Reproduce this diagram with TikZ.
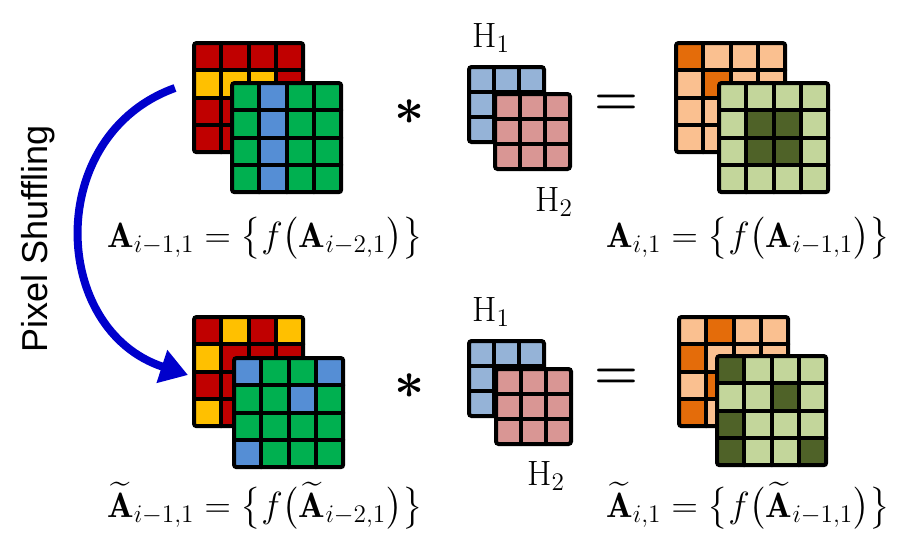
\documentclass[tikz,border=0pt]{standalone}
\usepackage{amsmath, amssymb}
\usepackage{fontspec}
\usepackage{tikz}
\usetikzlibrary{arrows.meta}
\usetikzlibrary{positioning}
\newfontfamily\arialfont{Liberation Sans}

\definecolor{rd}{HTML}{C00000}
\definecolor{yw}{HTML}{FFC000}
\definecolor{gn}{HTML}{00B050}
\definecolor{bu}{HTML}{558ED5}
\definecolor{kb}{HTML}{95B3D7}
\definecolor{kr}{HTML}{D99694}
\definecolor{dor}{HTML}{E46C0A}
\definecolor{lor}{HTML}{FAC090}
\definecolor{lgn}{HTML}{C3D69B}
\definecolor{dgn}{HTML}{4F6228}
\definecolor{shufblue}{HTML}{0000CC}

\tikzset{
    gridline/.style={
        draw=black,
        line width=0.08cm,
        line cap=round
    },
    formula/.style={
        anchor=base,
        inner sep=0pt,
        font=\fontsize{20}{24}\selectfont
    },
    kernlabel/.style={
        inner sep=0pt,
        font=\fontsize{20}{24}\selectfont
    },
    opsign/.style={
        inner sep=0pt,
        font=\fontsize{24.88}{30}\selectfont
    }
}

% grid of coloured pixels: top-left corner x, y, cells per row, pitch, colours
\newcommand{\pixgrid}[5]{%
  \begin{scope}[shift={(#1+2,#2+2)}]
    \foreach \c [count=\k from 0] in {#5} {
      \pgfmathtruncatemacro{\cx}{mod(\k,#3)}
      \pgfmathtruncatemacro{\cy}{div(\k,#3)}
      \fill[\c] (\cx*#4,\cy*#4) rectangle ++(#4,#4);
    }
    \pgfmathtruncatemacro{\last}{#3-1}
    \foreach \i in {1,...,\last} {
      \draw[gridline] (\i*#4,0) -- (\i*#4,#3*#4);
      \draw[gridline] (0,\i*#4) -- (#3*#4,\i*#4);
    }
    \draw[gridline, rounded corners=1.5pt] (0,0) rectangle (#3*#4,#3*#4);
  \end{scope}
}

\begin{document}
\begin{tikzpicture}[x=0.02cm, y=-0.02cm]
    \useasboundingbox (0,0) rectangle (918,551);

    % Feature maps - top row
    \pixgrid{192}{41}{4}{27.3}{rd,rd,rd,rd, yw,yw,yw,rd, rd,rd,rd,rd, rd,rd,rd,rd}
    \pixgrid{230}{81}{4}{27.3}{gn,bu,gn,gn, gn,bu,gn,gn, gn,bu,gn,gn, gn,bu,gn,gn}
    \pixgrid{674}{41}{4}{27.3}{dor,lor,lor,lor, lor,dor,lor,lor, lor,lor,dor,lor, lor,lor,lor,dor}
    \pixgrid{717}{81}{4}{27.3}{lgn,lgn,lgn,lgn, lgn,dgn,dgn,lgn, lgn,dgn,dgn,lgn, lgn,lgn,lgn,lgn}

    % Feature maps - bottom row (shuffled)
    \pixgrid{192}{315}{4}{27.3}{rd,yw,rd,yw, yw,rd,rd,rd, rd,rd,rd,rd, yw,rd,rd,rd}
    \pixgrid{232}{356}{4}{27.3}{bu,gn,gn,bu, gn,gn,bu,gn, gn,gn,gn,gn, bu,gn,gn,gn}
    \pixgrid{677}{315}{4}{27.3}{lor,dor,lor,lor, dor,lor,lor,lor, lor,dor,lor,lor, dor,lor,lor,lor}
    \pixgrid{715}{354}{4}{27.3}{dgn,lgn,lgn,lgn, lgn,lgn,dgn,lgn, dgn,lgn,lgn,lgn, dgn,lgn,lgn,dgn}

    % Kernels
    \pixgrid{467}{65}{3}{25}{kb,kb,kb, kb,kb,kb, kb,kb,kb}
    \pixgrid{493}{92}{3}{25}{kr,kr,kr, kr,kr,kr, kr,kr,kr}
    \pixgrid{467}{339}{3}{25}{kb,kb,kb, kb,kb,kb, kb,kb,kb}
    \pixgrid{494}{367}{3}{25}{kr,kr,kr, kr,kr,kr, kr,kr,kr}

    % Labels
    \node[kernlabel] (h1top) at (491,38) {$\mathrm{H}_1$};
    \node[kernlabel] (h2top) at (554,202) {$\mathrm{H}_2$};
    \node[kernlabel] (h1bot) at (491,312) {$\mathrm{H}_1$};
    \node[kernlabel] (h2bot) at (546,476) {$\mathrm{H}_2$};

    \node[opsign, scale=1.2] (ast1) at (410,112) {$\boldsymbol{\ast}$};
    \node[opsign, scale=1.2] (ast2) at (410,386) {$\boldsymbol{\ast}$};
    \node[opsign, scale=1.15] (eq1) at (616,105) {$\boldsymbol{=}$};
    \node[opsign, scale=1.15] (eq2) at (616,379) {$\boldsymbol{=}$};

    \node[formula] (fa1) at (265,247) {$\mathbf{A}_{i-1,1}=\bigl\{f\bigl(\mathbf{A}_{i-2,1}\bigr)\bigr\}$};
    \node[formula] (fa2) at (748,247) {$\mathbf{A}_{i,1}=\bigl\{f\bigl(\mathbf{A}_{i-1,1}\bigr)\bigr\}$};
    \node[formula] (fb1) at (265,517) {$\widetilde{\mathbf{A}}_{i-1,1}=\bigl\{f\bigl(\widetilde{\mathbf{A}}_{i-2,1}\bigr)\bigr\}$};
    \node[formula] (fb2) at (748,517) {$\widetilde{\mathbf{A}}_{i,1}=\bigl\{f\bigl(\widetilde{\mathbf{A}}_{i-1,1}\bigr)\bigr\}$};

    \node[rotate=90, inner sep=0pt, font=\arialfont\fontsize{20.5}{24}\selectfont] (shuf) at (38,239) {Pixel Shuffling};

    % Shuffling arrow
    \coordinate (arrS) at (175,88);
    \coordinate (arrE) at (188,375);
    \draw[shufblue, line width=0.16cm, -{Triangle[length=0.55cm, width=0.66cm]}]
        (arrS) .. controls (44,135) and (50,330) .. (arrE);
\end{tikzpicture}
\end{document}
